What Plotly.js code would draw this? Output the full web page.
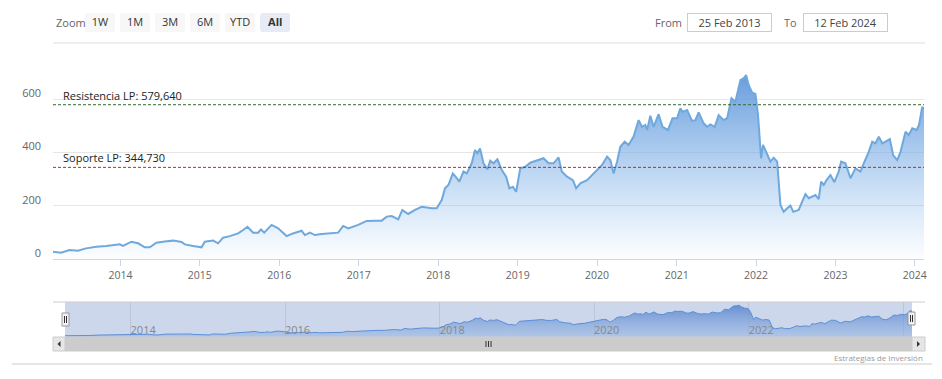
<!DOCTYPE html>
<html>
<head>
<meta charset="utf-8">
<script src="https://cdn.plot.ly/plotly-3.0.1.min.js"></script>
<style>
  html, body { margin: 0; padding: 0; background: #fff; }
  #chart { width: 942px; height: 379px; }
</style>
</head>
<body>
<div id="chart"></div>
<script>
// ---- Data ----
const dates = [
  '2013-02-25','2013-04-03','2013-05-12','2013-06-19','2013-07-27','2013-09-12','2013-10-28','2013-12-29',
  '2014-01-13','2014-02-20','2014-03-23','2014-04-23','2014-05-16','2014-06-15','2014-07-24','2014-08-31',
  '2014-10-09','2014-10-24','2014-12-01','2015-01-09','2015-01-24','2015-03-03','2015-03-26','2015-04-18',
  '2015-05-19','2015-06-26','2015-07-19','2015-08-08','2015-09-03','2015-09-26','2015-10-09','2015-10-24',
  '2015-11-27','2015-12-27','2016-02-04','2016-03-04','2016-04-13','2016-04-28','2016-05-21','2016-06-13',
  '2016-07-14','2016-08-13','2016-09-28','2016-10-21','2016-11-13','2016-12-29','2017-02-06','2017-03-16',
  '2017-04-16','2017-05-09','2017-06-01','2017-07-01','2017-07-20','2017-08-01','2017-08-16','2017-09-16',
  '2017-10-17','2017-12-02','2017-12-25','2018-01-17','2018-02-01','2018-02-17','2018-03-09','2018-03-27',
  '2018-04-08','2018-04-27','2018-05-12','2018-06-04','2018-06-19','2018-06-30','2018-07-12','2018-07-28',
  '2018-08-15','2018-08-28','2018-09-12','2018-09-30','2018-10-20','2018-11-09','2018-11-24','2018-12-10',
  '2018-12-25','2019-01-13','2019-02-05','2019-02-28','2019-03-30','2019-04-30','2019-05-23','2019-06-15',
  '2019-07-08','2019-07-23','2019-08-16','2019-09-12','2019-09-27','2019-10-16','2019-11-16','2019-12-09',
  '2020-01-01','2020-01-24','2020-02-16','2020-03-02','2020-03-17','2020-04-02','2020-04-17','2020-05-07',
  '2020-05-25','2020-06-17','2020-07-10','2020-07-26','2020-08-10','2020-08-18','2020-09-02','2020-09-17',
  '2020-10-10','2020-10-28','2020-11-22','2020-12-13','2021-01-03','2021-01-18','2021-01-28','2021-02-18',
  '2021-03-13','2021-03-28','2021-04-12','2021-05-05','2021-05-21','2021-06-05','2021-06-25','2021-07-13',
  '2021-08-05','2021-08-21','2021-09-10','2021-09-28','2021-10-21','2021-11-05','2021-11-16','2021-11-28',
  '2021-12-14','2021-12-29','2022-01-10','2022-01-24','2022-02-02','2022-02-21','2022-03-08','2022-03-23',
  '2022-04-08','2022-04-23','2022-05-08','2022-05-24','2022-06-08','2022-06-21','2022-07-16','2022-08-01',
  '2022-08-16','2022-08-31','2022-10-01','2022-10-16','2022-10-27','2022-11-08','2022-11-21','2022-12-09',
  '2022-12-27','2023-01-16','2023-01-27','2023-02-16','2023-03-11','2023-04-03','2023-04-26','2023-05-11',
  '2023-06-03','2023-06-19','2023-07-04','2023-07-19','2023-08-04','2023-08-19','2023-09-08','2023-09-23',
  '2023-10-12','2023-10-27','2023-11-19','2023-12-04','2023-12-20','2024-01-09','2024-01-20','2024-02-04',
  '2024-02-12'
];
const prices = [
  28,25,35,32,41,47,50,56,
  50,66,60,45,45,62,67,70,
  65,56,50,45,66,70,60,81,
  87,97,110,122,100,100,112,100,
  129,116,87,97,107,91,100,91,
  95,97,100,125,116,129,144,145,
  145,160,162,150,185,178,170,185,
  197,191,191,222,266,279,322,304,
  291,329,322,360,410,397,416,360,
  337,370,360,375,335,310,266,272,
  253,341,347,362,370,379,360,360,
  382,329,310,297,266,285,297,316,
  335,354,385,372,322,366,422,441,
  429,460,522,497,504,485,538,497,
  544,497,485,529,529,566,553,560,
  519,522,551,510,497,506,497,541,
  522,529,604,591,672,679,691,654,
  625,620,541,379,429,397,366,381,
  366,204,178,191,201,178,185,216,
  244,229,241,226,291,279,297,316,
  289,329,366,360,304,341,329,360,
  403,441,435,460,435,441,451,391,
  372,403,478,466,491,485,504,572,
  563
];

const resistanceLevel = 579.64;
const supportLevel = 344.73;
const resistanceLabel = 'Resistencia LP: 579,640';
const supportLabel = 'Soporte LP: 344,730';

const yTickValues = [0, 200, 400, 600];
const navTickValues = ['2014-01-01','2016-01-01','2018-01-01','2020-01-01','2022-01-01','2024-01-01'];
const navTickLabels = ['2014','2016','2018','2020','2022','2\u2026'];
const fromDateLabel = '25 Feb 2013';
const toDateLabel = '12 Feb 2024';

// ---- helpers for pixel-placed chrome ----
const W = 942, H = 379;
const px = x => x / W;
const py = y => 1 - y / H;
const FONT = 'Open Sans, DejaVu Sans, sans-serif';

const mainTrace = {
  x: dates, y: prices, type: 'scatter', mode: 'lines',
  line: { color: '#6fa8dc', width: 2 },
  fill: 'tozeroy',
  fillgradient: {
    type: 'vertical', start: 0, stop: 700,
    colorscale: [[0, 'rgba(124,181,236,0.02)'], [1, 'rgba(95,150,218,0.95)']]
  },
  hoverinfo: 'x+y', xaxis: 'x', yaxis: 'y'
};

const navTrace = {
  x: dates, y: prices, type: 'scatter', mode: 'lines',
  line: { color: '#5b8fd6', width: 1 },
  fill: 'tozeroy',
  fillgradient: {
    type: 'vertical', start: 0, stop: 700,
    colorscale: [[0, 'rgba(140,175,225,0.45)'], [1, 'rgba(85,130,205,0.85)']]
  },
  hoverinfo: 'skip', xaxis: 'x2', yaxis: 'y2'
};

const shapes = [
  // line under range selector
  { type: 'line', xref: 'paper', yref: 'paper', x0: px(53), x1: px(925), y0: py(43), y1: py(43),
    line: { color: '#eeeeee', width: 2 } },
  // resistance / support plot lines
  { type: 'line', xref: 'x domain', x0: 0, x1: 1, yref: 'y', y0: resistanceLevel, y1: resistanceLevel,
    line: { color: '#2e6b2e', width: 1, dash: '3px,2px' } },
  { type: 'line', xref: 'x domain', x0: 0, x1: 1, yref: 'y', y0: supportLevel, y1: supportLevel,
    line: { color: '#c4252b', width: 1, dash: '3px,2px' } },
  // navigator background mask
  { type: 'rect', layer: 'below', xref: 'paper', yref: 'paper', x0: px(65), x1: px(912), y0: py(337), y1: py(302),
    fillcolor: '#cdd7eb', line: { width: 0 } },
  // navigator outline top
  { type: 'line', xref: 'paper', yref: 'paper', x0: px(53), x1: px(925), y0: py(302), y1: py(302),
    line: { color: '#cccccc', width: 1 } },
  // scrollbar track + thumb
  { type: 'rect', xref: 'paper', yref: 'paper', x0: px(53), x1: px(925), y0: py(351), y1: py(337),
    fillcolor: '#f2f2f2', line: { width: 0 } },
  { type: 'rect', xref: 'paper', yref: 'paper', x0: px(65), x1: px(912), y0: py(351), y1: py(337),
    fillcolor: '#cccccc', line: { color: '#cccccc', width: 1 } },
  // scrollbar buttons
  { type: 'rect', xref: 'paper', yref: 'paper', x0: px(53), x1: px(65), y0: py(351), y1: py(337),
    fillcolor: '#e6e6e6', line: { color: '#cccccc', width: 1 } },
  { type: 'rect', xref: 'paper', yref: 'paper', x0: px(912), x1: px(925), y0: py(351), y1: py(337),
    fillcolor: '#e6e6e6', line: { color: '#cccccc', width: 1 } },
  { type: 'path', xref: 'paper', yref: 'paper',
    path: `M ${px(60.5)} ${py(341)} L ${px(57.5)} ${py(344)} L ${px(60.5)} ${py(347)} Z`,
    fillcolor: '#333333', line: { width: 0 } },
  { type: 'path', xref: 'paper', yref: 'paper',
    path: `M ${px(917)} ${py(341)} L ${px(920)} ${py(344)} L ${px(917)} ${py(347)} Z`,
    fillcolor: '#333333', line: { width: 0 } },
  // thumb grip
  ...[486, 488.5, 491].map(x => ({ type: 'line', xref: 'paper', yref: 'paper', x0: px(x), x1: px(x), y0: py(341), y1: py(347),
    line: { color: '#333333', width: 1 } })),
  // navigator handles
  { type: 'rect', xref: 'paper', yref: 'paper', x0: px(62), x1: px(69), y0: py(326), y1: py(313),
    fillcolor: '#f2f2f2', line: { color: '#999999', width: 1 } },
  ...[64.5, 66.5].map(x => ({ type: 'line', xref: 'paper', yref: 'paper', x0: px(x), x1: px(x), y0: py(323), y1: py(316),
    line: { color: '#333333', width: 1 } })),
  { type: 'rect', xref: 'paper', yref: 'paper', x0: px(908), x1: px(915), y0: py(325), y1: py(312),
    fillcolor: '#f2f2f2', line: { color: '#999999', width: 1 } },
  ...[910.5, 912.5].map(x => ({ type: 'line', xref: 'paper', yref: 'paper', x0: px(x), x1: px(x), y0: py(322), y1: py(315),
    line: { color: '#333333', width: 1 } })),
  // bottom separator line
  { type: 'line', xref: 'paper', yref: 'paper', x0: px(12), x1: px(932), y0: py(364), y1: py(364),
    line: { color: '#cccccc', width: 1 } }
];

const annotations = [
  { text: 'Zoom', xref: 'paper', yref: 'paper', x: px(54), y: py(23), xanchor: 'left', yanchor: 'middle',
    showarrow: false, font: { family: FONT, size: 11, color: '#666666' } },
  { text: 'From', xref: 'paper', yref: 'paper', x: px(653), y: py(22.5), xanchor: 'left', yanchor: 'middle',
    showarrow: false, font: { family: FONT, size: 11, color: '#666666' } },
  { text: fromDateLabel, xref: 'paper', yref: 'paper', x: px(729.5), y: py(22.5), xanchor: 'center', yanchor: 'middle',
    width: 81, height: 15, bordercolor: '#cccccc', borderwidth: 1, borderpad: 1, bgcolor: '#ffffff',
    showarrow: false, font: { family: FONT, size: 11, color: '#444444' } },
  { text: 'To', xref: 'paper', yref: 'paper', x: px(782), y: py(22.5), xanchor: 'left', yanchor: 'middle',
    showarrow: false, font: { family: FONT, size: 11, color: '#666666' } },
  { text: toDateLabel, xref: 'paper', yref: 'paper', x: px(845.5), y: py(22.5), xanchor: 'center', yanchor: 'middle',
    width: 81, height: 15, bordercolor: '#cccccc', borderwidth: 1, borderpad: 1, bgcolor: '#ffffff',
    showarrow: false, font: { family: FONT, size: 11, color: '#444444' } },
  { text: resistanceLabel, xref: 'x domain', x: 0, xshift: 8, xanchor: 'left', yref: 'y', y: resistanceLevel,
    yanchor: 'bottom', showarrow: false, font: { family: FONT, size: 11, color: '#222222' } },
  { text: supportLabel, xref: 'x domain', x: 0, xshift: 8, xanchor: 'left', yref: 'y', y: supportLevel,
    yanchor: 'bottom', showarrow: false, font: { family: FONT, size: 11, color: '#222222' } },
  { text: 'Estrategias de Inversión', xref: 'paper', yref: 'paper', x: px(925), y: py(357), xanchor: 'right',
    yanchor: 'middle', showarrow: false, font: { family: FONT, size: 8, color: '#999999' } }
];

const layout = {
  width: W, height: H,
  margin: { l: 0, r: 0, t: 0, b: 0, pad: 0 },
  paper_bgcolor: '#ffffff', plot_bgcolor: 'rgba(0,0,0,0)',
  font: { family: FONT, size: 11, color: '#666666' },
  showlegend: false,
  hovermode: 'x',
  xaxis: {
    type: 'date', domain: [px(53), px(924)], anchor: 'y', autorange: true,
    tickformat: '%Y', dtick: 'M12', tick0: '2014-01-01',
    ticks: 'outside', ticklen: 6, tickcolor: '#ccd6eb', tickwidth: 1,
    showline: true, linecolor: '#ccd6eb', linewidth: 1,
    showgrid: false, zeroline: false,
    tickfont: { family: FONT, size: 10.5, color: '#666666' },
    rangeselector: {
      x: px(85), y: py(13), xanchor: 'left', yanchor: 'top',
      bgcolor: '#f7f7f7', activecolor: '#e6ebf5', bordercolor: '#f7f7f7', borderwidth: 0,
      font: { family: FONT, size: 11, color: '#333333' },
      buttons: [
        { count: 7, label: '1W', step: 'day', stepmode: 'backward' },
        { count: 1, label: '1M', step: 'month', stepmode: 'backward' },
        { count: 3, label: '3M', step: 'month', stepmode: 'backward' },
        { count: 6, label: '6M', step: 'month', stepmode: 'backward' },
        { count: 1, label: 'YTD', step: 'year', stepmode: 'todate' },
        { label: '<b>All</b>', step: 'all' }
      ]
    }
  },
  yaxis: {
    domain: [py(259.3), py(65)], anchor: 'x', range: [0, 728.6],
    tickvals: yTickValues, ticks: '', showline: false,
    showgrid: true, gridcolor: '#e6e6e6', gridwidth: 1, zeroline: false,
    ticklabelshift: -6, ticklabelstandoff: 11,
    tickfont: { family: FONT, size: 11, color: '#666666' }
  },
  xaxis2: {
    type: 'date', domain: [px(65), px(912)], anchor: 'y2', autorange: true,
    tickvals: navTickValues, ticktext: navTickLabels,
    ticklabelposition: 'inside right', ticks: '', ticklabelstandoff: -5,
    showgrid: true, gridcolor: '#bcc6da', gridwidth: 1,
    showline: false, zeroline: false,
    tickfont: { family: FONT, size: 11, color: '#888888' }
  },
  yaxis2: {
    domain: [py(337), py(302)], anchor: 'x2', range: [0, 760],
    visible: false, showgrid: false, zeroline: false
  },
  shapes: shapes,
  annotations: annotations
};

Plotly.newPlot('chart', [navTrace, mainTrace], layout, { displayModeBar: false, responsive: false });
</script>
</body>
</html>
